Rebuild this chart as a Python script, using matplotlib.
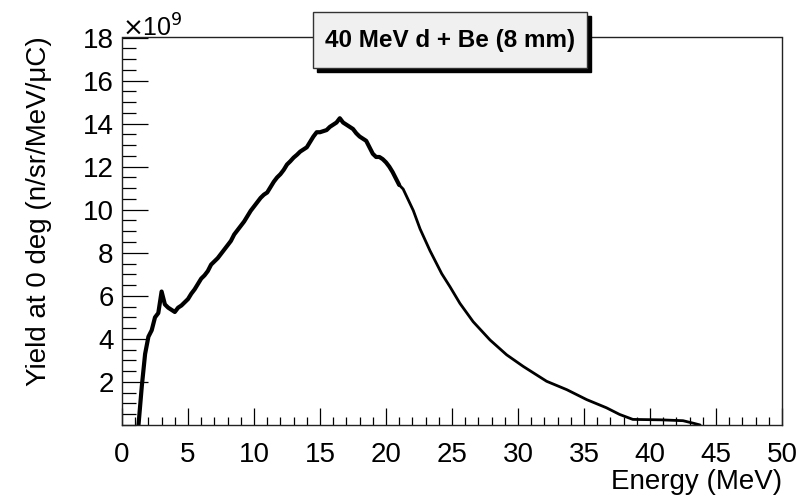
import numpy as np
import matplotlib.pyplot as plt
from matplotlib.patches import Rectangle
from matplotlib.ticker import MultipleLocator

# neutron yield at 0 deg (units of 1e9 n/sr/MeV/uC)
energy = [1.25, 1.5, 1.75, 2.0, 2.25, 2.5, 2.75, 3.0, 3.25, 3.5, 3.75, 4.0, 4.25, 4.5,
          4.75, 5.0, 5.25, 5.5, 5.75, 6.0, 6.25, 6.5, 6.75, 7.0, 7.25, 7.5, 7.75, 8.0,
          8.25, 8.5, 8.75, 9.0, 9.25, 9.5, 9.75, 10.0, 10.25, 10.5, 10.75, 11.0, 11.25,
          11.5, 11.75, 12.0, 12.25, 12.5, 12.75, 13.0, 13.25, 13.5, 13.75, 14.0, 14.25,
          14.5, 14.75, 15.0, 15.25, 15.5, 15.75, 16.0, 16.25, 16.5, 16.75, 17.0, 17.25,
          17.5, 17.75, 18.0, 18.25, 18.5, 18.75, 19.0, 19.25, 19.5, 19.75, 20.0, 20.25,
          20.5, 20.75, 21.0,
          21.3, 22.07, 22.58, 23.33, 24.22, 24.85, 25.6, 26.6, 27.88, 29.14, 30.4,
          32.17, 33.7, 35.2, 36.7, 37.7, 38.7, 40.8, 42.5, 43.3, 43.8]
yield_e9 = [0.0, 1.8, 3.3, 4.1, 4.4, 5.0, 5.2, 6.2, 5.6, 5.45, 5.35, 5.25, 5.45, 5.55,
            5.7, 5.85, 6.1, 6.3, 6.55, 6.8, 6.95, 7.15, 7.45, 7.6, 7.75, 7.95, 8.15, 8.35,
            8.55, 8.85, 9.05, 9.25, 9.45, 9.7, 9.95, 10.15, 10.35, 10.55, 10.7, 10.8, 11.05,
            11.3, 11.5, 11.65, 11.85, 12.1, 12.25, 12.42, 12.55, 12.7, 12.8, 12.9, 13.15,
            13.4, 13.6, 13.6, 13.65, 13.7, 13.85, 13.95, 14.05, 14.25, 14.05, 13.95, 13.85,
            13.75, 13.55, 13.4, 13.3, 13.2, 12.9, 12.6, 12.45, 12.45, 12.35, 12.2, 12.0,
            11.75, 11.45, 11.15,
            10.96, 9.96, 9.11, 8.1, 7.03, 6.42, 5.65, 4.8, 3.95, 3.26, 2.72,
            2.03, 1.64, 1.18, 0.8, 0.49, 0.26, 0.24, 0.2, 0.08, 0.0]

plt.rcParams['font.family'] = ['Liberation Sans', 'DejaVu Sans']

fig = plt.figure(figsize=(7.98, 4.99), dpi=100)
ax = fig.add_axes([122 / 798, 1 - 425 / 499, 660 / 798, 387.5 / 499])

# the low-energy part of the spectrum is noisy, so it reads as a thicker band
split = energy.index(21.0)
ax.plot(energy[:split + 1], yield_e9[:split + 1], color='black', lw=3.0,
        solid_capstyle='round', solid_joinstyle='round')
ax.plot(energy[split:], yield_e9[split:], color='black', lw=2.0,
        solid_capstyle='round')

ax.set_xlim(0, 50)
ax.set_ylim(0, 18)
ax.xaxis.set_major_locator(MultipleLocator(5))
ax.xaxis.set_minor_locator(MultipleLocator(1))
ax.yaxis.set_major_locator(MultipleLocator(2))
ax.yaxis.set_minor_locator(MultipleLocator(0.5))
ax.set_yticks(np.arange(2, 19, 2))

ax.tick_params(axis='both', which='both', direction='in', top=False, right=False,
               labelsize=20, colors='black', width=0.9)
ax.tick_params(axis='y', which='major', length=19, pad=6)
ax.tick_params(axis='y', which='minor', length=10)
ax.tick_params(axis='x', which='major', length=12, pad=12)
ax.tick_params(axis='x', which='minor', length=6)
for sp in ax.spines.values():
    sp.set_linewidth(1.0)
    sp.set_color('#222222')

ax.set_ylabel('Yield at 0 deg (n/sr/MeV/\u03bcC)', fontsize=20)
ax.yaxis.set_label_coords(-0.106, 0.552)
ax.set_xlabel('Energy (MeV)', fontsize=20, ha='right')
ax.xaxis.set_label_coords(1.0, -0.114)

fig.text(122 / 798, 1 - 28 / 499, r'$\times$10$^{9}$', fontsize=18, va='center', ha='left')

# title box with shadow, ROOT style
bx, by, bw, bh = 313 / 798, 1 - 68 / 499, 274 / 798, 56 / 499
fig.patches.append(Rectangle((bx + 4 / 798, by - 4 / 499), bw, bh, transform=fig.transFigure,
                             facecolor='black', edgecolor='black', zorder=5))
fig.patches.append(Rectangle((bx, by), bw, bh, transform=fig.transFigure,
                             facecolor='#f0f0f0', edgecolor='#333333', lw=1.0, zorder=6))
fig.text(bx + bw / 2, by + bh / 2, '40 MeV d + Be (8 mm)', fontsize=17.5, fontweight='bold',
         ha='center', va='center', zorder=7)

fig.savefig('out.png', dpi=100)
